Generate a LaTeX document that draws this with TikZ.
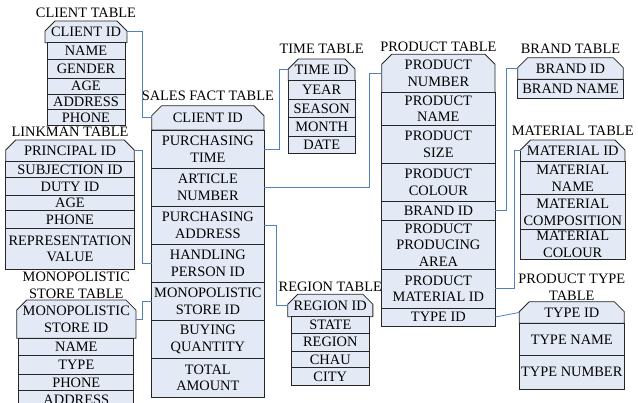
\documentclass[tikz,border=0pt]{standalone}
\usepackage{fontspec}
\setmainfont{Liberation Serif}
\usepackage{tikz}
\usetikzlibrary{positioning}
\usetikzlibrary{shapes.misc}
\definecolor{rowfill}{RGB}{228,234,245}
\definecolor{linkblue}{RGB}{79,129,189}
\tikzset{
  row/.style={draw=black!85,fill=rowfill,line width=0.8pt,inner sep=1pt,outer sep=0pt,align=center,minimum height=#1},
  keyrow/.style={row=#1,chamfered rectangle,chamfered rectangle corners={north west,north east},
    chamfered rectangle xsep=5pt,chamfered rectangle ysep=5pt},
  tabletitle/.style={inner sep=0pt,outer sep=0pt,align=center},
  link/.style={draw=linkblue,line width=0.8pt},
}
\begin{document}
\begin{tikzpicture}[
    x=1pt,y=-1pt,
    node distance=0pt,
    font=\fontsize{14.4}{16.6}\selectfont
    ]
    \useasboundingbox (0,0) rectangle (638,403);
    \clip (0,0) rectangle (638,403);

    % client table
    \begin{scope}[nodes={minimum width=78pt}]
    \node[keyrow=20.5pt,anchor=north west] (cl1) at (50,26) {CLIENT ID};
    \node[row=17pt,below=of cl1] (cl2) {NAME};
    \node[row=18.5pt,below=of cl2] (cl3) {GENDER};
    \node[row=16pt,below=of cl3] (cl4) {AGE};
    \node[row=15.5pt,below=of cl4] (cl5) {ADDRESS};
    \node[row=15.5pt,below=of cl5] (cl6) {PHONE};
    \node[tabletitle,above=3.5pt of cl1] (cl) {CLIENT TABLE};
    \end{scope}

    % linkman table
    \begin{scope}[nodes={minimum width=128.6pt}]
    \node[keyrow=19.3pt,anchor=north west] (lk1) at (10.7,145) {PRINCIPAL ID};
    \node[row=15.7pt,below=of lk1] (lk2) {SUBJECTION ID};
    \node[row=18.3pt,below=of lk2] (lk3) {DUTY ID};
    \node[row=15pt,below=of lk3] (lk4) {AGE};
    \node[row=17.4pt,below=of lk4] (lk5) {PHONE};
    \node[row=41.6pt,below=of lk5] (lk6) {REPRESENTATION\\VALUE};
    \node[tabletitle,above=3pt of lk1] (lk) {LINKMAN TABLE};
    \end{scope}

    % monopolistic store table
    \begin{scope}[nodes={minimum width=115pt}]
    \node[keyrow=34.3pt,anchor=north west] (ms1) at (21.7,305) {MONOPOLISTIC\\STORE ID};
    \node[row=16.7pt,below=of ms1] (ms2) {NAME};
    \node[row=19pt,below=of ms2] (ms3) {TYPE};
    \node[row=16.7pt,below=of ms3] (ms4) {PHONE};
    \node[row=18pt,below=of ms4] (ms5) {ADDRESS};
    \node[tabletitle,above=1.5pt of ms1] (ms) {MONOPOLISTIC\\STORE TABLE};
    \end{scope}

    % sales fact table
    \begin{scope}[nodes={minimum width=112.3pt}]
    \node[keyrow=24.3pt,anchor=north west] (sf1) at (156.7,110.7) {CLIENT ID};
    \node[row=38.3pt,below=of sf1] (sf2) {PURCHASING\\TIME};
    \node[row=37.7pt,below=of sf2] (sf3) {ARTICLE\\NUMBER};
    \node[row=38.3pt,below=of sf3] (sf4) {PURCHASING\\ADDRESS};
    \node[row=38pt,below=of sf4] (sf5) {HANDLING\\PERSON ID};
    \node[row=38.4pt,below=of sf5] (sf6) {MONOPOLISTIC\\STORE ID};
    \node[row=37.6pt,below=of sf6] (sf7) {BUYING\\QUANTITY};
    \node[row=39pt,below=of sf7] (sf8) {TOTAL\\AMOUNT};
    \node[tabletitle,above=5pt of sf1] (sf) {SALES FACT TABLE};
    \end{scope}

    % time table
    \begin{scope}[nodes={minimum width=66.7pt}]
    \node[keyrow=19.3pt,anchor=north west] (tm1) at (293.3,64) {TIME ID};
    \node[row=19pt,below=of tm1] (tm2) {YEAR};
    \node[row=18.4pt,below=of tm2] (tm3) {SEASON};
    \node[row=18.3pt,below=of tm3] (tm4) {MONTH};
    \node[row=17.7pt,below=of tm4] (tm5) {DATE};
    \node[tabletitle,above=5pt of tm1] (tm) {TIME TABLE};
    \end{scope}

    % region table
    \begin{scope}[nodes={minimum width=78.3pt}]
    \node[keyrow=22.4pt,anchor=north west] (rg1) at (292.7,299.3) {REGION ID};
    \node[row=16.6pt,below=of rg1] (rg2) {STATE};
    \node[row=17.7pt,below=of rg2] (rg3) {REGION};
    \node[row=16.7pt,below=of rg3] (rg4) {CHAU};
    \node[row=17.3pt,below=of rg4] (rg5) {CITY};
    \node[tabletitle,above=3pt of rg1] (rg) {REGION TABLE};
    \end{scope}

    % product table
    \begin{scope}[nodes={minimum width=113.3pt}]
    \node[keyrow=33pt,anchor=north west] (pr1) at (386.7,59.3) {PRODUCT\\NUMBER};
    \node[row=32.7pt,below=of pr1] (pr2) {PRODUCT\\NAME};
    \node[row=38.3pt,below=of pr2] (pr3) {PRODUCT\\SIZE};
    \node[row=37.7pt,below=of pr3] (pr4) {PRODUCT\\COLOUR};
    \node[row=19pt,below=of pr4] (pr5) {BRAND ID};
    \node[row=49.3pt,below=of pr5] (pr6) {PRODUCT\\PRODUCING\\AREA};
    \node[row=38.4pt,below=of pr6] (pr7) {PRODUCT\\MATERIAL ID};
    \node[row=18.3pt,below=of pr7] (pr8) {TYPE ID};
    \node[tabletitle,above=3pt of pr1] (pr) {PRODUCT TABLE};
    \end{scope}

    % brand table
    \begin{scope}[nodes={minimum width=105.6pt}]
    \node[keyrow=20pt,anchor=north west] (br1) at (522.7,62.7) {BRAND ID};
    \node[row=19.6pt,below=of br1] (br2) {BRAND NAME};
    \node[tabletitle,above=4.5pt of br1] (br) {BRAND TABLE};
    \end{scope}

    % material table
    \begin{scope}[nodes={minimum width=104.5pt}]
    \node[keyrow=21pt,anchor=north west] (mt1) at (525.5,145) {MATERIAL ID};
    \node[row=33pt,below=of mt1] (mt2) {MATERIAL\\NAME};
    \node[row=35pt,below=of mt2] (mt3) {MATERIAL\\COMPOSITION};
    \node[row=30pt,below=of mt3] (mt4) {MATERIAL\\COLOUR};
    \node[tabletitle,above=4.5pt of mt1] (mt) {MATERIAL TABLE};
    \end{scope}

    % product type table
    \begin{scope}[nodes={minimum width=105pt}]
    \node[keyrow=20pt,anchor=north west] (pt1) at (524.3,306.7) {TYPE ID};
    \node[row=32.3pt,below=of pt1] (pt2) {TYPE NAME};
    \node[row=33.7pt,below=of pt2] (pt3) {TYPE NUMBER};
    \node[tabletitle,above=1.5pt of pt1] (pt) {PRODUCT TYPE\\TABLE};
    \end{scope}

    % links
    \draw[link] (cl1.east) -- ++(15,0) |- (sf1.west);
    \draw[link] (sf2.east) -- ++(15,0) |- (tm1.west);
    \draw[link] (sf3.east) -| ([xshift=-12pt]pr1.west) -- (pr1.west);
    \draw[link] (sf4.east) -- ++(12.5,0) |- (rg1.west);
    \draw[link] (lk1.east) -- ++(8,0) |- (sf5.west);
    \draw[link] (ms1.east) -| ([xshift=-9.4pt]sf6.west) -- (sf6.west);
    \draw[link] (pr5.east) -- ++(11.5,0) |- (br1.west);
    \draw[link] (pr7.east) -- ++(19,0) |- (mt1.west);
    \draw[link] (pr8.east) -- (pt1.west);

\end{tikzpicture}
\end{document}
